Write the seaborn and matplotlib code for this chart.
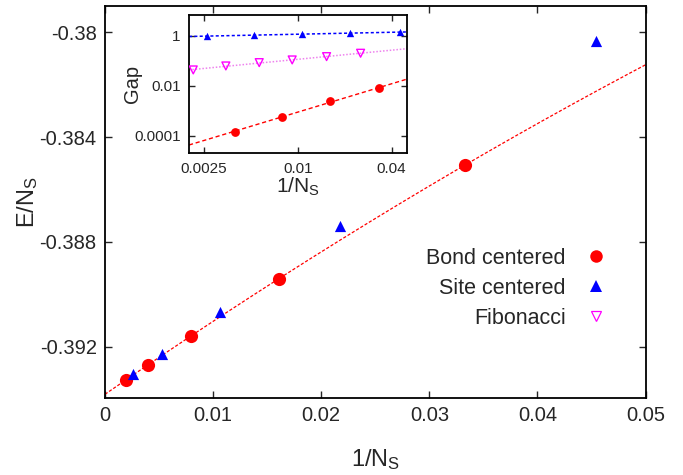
import numpy as np
import matplotlib
matplotlib.use("Agg")
import matplotlib.pyplot as plt
import seaborn as sns
from matplotlib.lines import Line2D

# ==== DATA ====
bond_N = [510, 254, 126, 62, 30]
bond_E = [-0.39327, -0.39270, -0.39159, -0.38940, -0.38506]

site_N = [382, 190, 94, 46, 22]
site_E = [-0.39304, -0.39228, -0.39068, -0.38740, -0.38033]

# inset: gaps (log-log)
bond_gap_N = [254, 126, 62, 30]
bond_gap = [1.49e-4, 5.92e-4, 2.44e-3, 8.09e-3]

site_gap_N = [382, 190, 94, 46, 22]
site_gap = [1.00, 1.07, 1.17, 1.28, 1.45]

fib_inv_N = [0.00213, 0.00345, 0.00565, 0.0092, 0.0153, 0.0253]
fib_gap = [0.0437, 0.063, 0.0855, 0.1096, 0.1486, 0.203]

main_xticks = [0, 0.01, 0.02, 0.03, 0.04, 0.05]
main_yticks = [-0.392, -0.388, -0.384, -0.38]
inset_xticks = [0.0025, 0.01, 0.04]
inset_xticklabels = ["0.0025", "0.01", "0.04"]
inset_yticks = [1e-4, 1e-2, 1]
inset_yticklabels = ["0.0001", "0.01", "1"]

sns.set_style("ticks", {"xtick.direction": "in", "ytick.direction": "in"})
plt.rcParams["font.family"] = ["Liberation Sans", "DejaVu Sans"]
plt.rcParams["mathtext.fontset"] = "custom"
plt.rcParams["mathtext.rm"] = "Liberation Sans"
plt.rcParams["mathtext.it"] = "Liberation Sans:italic"

bond_x = 1.0 / np.array(bond_N)
site_x = 1.0 / np.array(site_N)

fig = plt.figure(figsize=(6.83, 4.75), dpi=100)
fig.patch.set_facecolor("white")

# ---- main axes ----
ax = fig.add_axes([0.1537, 0.1621, 0.7915, 0.8253])

# quadratic fit through bond centered energies
coef = np.polyfit(bond_x, bond_E, 2)
xf = np.linspace(0, 0.05, 300)
sns.lineplot(x=xf, y=np.polyval(coef, xf), color="red", lw=0.9,
             linestyle=(0, (2.5, 1.5)), ax=ax, zorder=1)

sns.scatterplot(x=bond_x, y=bond_E, marker="o", s=90, color="red",
                linewidth=0, ax=ax, zorder=3)
sns.scatterplot(x=site_x, y=site_E, marker="^", s=65, color="blue",
                linewidth=0, ax=ax, zorder=3)

ax.set_xlim(0, 0.05)
ax.set_ylim(-0.39396, -0.379)
ax.set_xticks(main_xticks)
ax.set_xticklabels(["0", "0.01", "0.02", "0.03", "0.04", "0.05"])
ax.set_yticks(main_yticks)
ax.set_yticklabels(["-0.392", "-0.388", "-0.384", "-0.38"])
ax.tick_params(axis="both", which="major", direction="in", length=5, width=1.0,
               labelsize=14.5, top=True, right=True, pad=6)
ax.minorticks_off()
for sp in ax.spines.values():
    sp.set_visible(True)
    sp.set_linewidth(1.3)
    sp.set_color("black")
ax.set_xlabel(r"1/N$_{\mathrm{S}}$", fontsize=17, labelpad=16)
ax.set_ylabel(r"E/N$_{\mathrm{S}}$", fontsize=17, labelpad=0)

# legend, gnuplot style: text first, marker after
handles = [
    Line2D([], [], ls="none", marker="o", ms=9, color="red", mew=0),
    Line2D([], [], ls="none", marker="^", ms=8, color="blue", mew=0),
    Line2D([], [], ls="none", marker="v", ms=7.5, mfc="none", mec="magenta", mew=0.9),
]
ax.legend(handles, ["Bond centered", "Site centered", "Fibonacci"],
          loc="center right", bbox_to_anchor=(0.888, 0.393),
          bbox_transform=fig.transFigure, frameon=False, markerfirst=False,
          fontsize=15.5, handlelength=1.0, handletextpad=0.9,
          labelspacing=0.42, borderpad=0, borderaxespad=0)

# ---- inset ----
axi = fig.add_axes([0.2767, 0.6773, 0.3187, 0.2912])
axi.set_xscale("log")
axi.set_yscale("log")

xi = np.linspace(np.log10(0.002), np.log10(0.05), 100)

p_site = np.polyfit(np.log10(site_x), np.log10(site_gap), 1)
sns.lineplot(x=10 ** xi, y=10 ** np.polyval(p_site, xi), color="blue", lw=1.1,
             linestyle=(0, (2, 1.5)), ax=axi, zorder=1)
p_fib = np.polyfit(np.log10(fib_inv_N), np.log10(fib_gap), 1)
sns.lineplot(x=10 ** xi, y=10 ** np.polyval(p_fib, xi), color="violet", lw=1.1,
             linestyle=(0, (1, 1.2)), ax=axi, zorder=1)
bgx = 1.0 / np.array(bond_gap_N)
p_bond = np.polyfit(np.log10(bgx), np.log10(bond_gap), 1)
sns.lineplot(x=10 ** xi, y=10 ** np.polyval(p_bond, xi), color="red", lw=1.0,
             linestyle=(0, (3, 2)), ax=axi, zorder=1)

sns.scatterplot(x=1.0 / np.array(site_gap_N), y=site_gap, marker="^", s=28,
                color="blue", linewidth=0, ax=axi, zorder=3)
sns.scatterplot(x=fib_inv_N, y=fib_gap, marker="v", s=32, color="magenta",
                facecolor="none", edgecolor="magenta", linewidth=1.0,
                ax=axi, zorder=3)
sns.scatterplot(x=bgx, y=bond_gap, marker="o", s=40, color="red",
                linewidth=0, ax=axi, zorder=3)

axi.set_xlim(0.002, 0.05)
axi.set_ylim(2.03e-5, 6.9)
axi.set_xticks(inset_xticks)
axi.set_xticklabels(inset_xticklabels)
axi.set_yticks(inset_yticks)
axi.set_yticklabels(inset_yticklabels)
axi.minorticks_off()
axi.tick_params(axis="both", which="major", direction="in", length=4, width=1.0,
                labelsize=11, top=True, right=True, pad=6)
for sp in axi.spines.values():
    sp.set_visible(True)
    sp.set_linewidth(1.3)
    sp.set_color("black")
axi.set_xlabel(r"1/N$_{\mathrm{S}}$", fontsize=15, labelpad=0)
axi.set_ylabel("Gap", fontsize=14.5, labelpad=-6)

fig.savefig("out.png", dpi=100, facecolor="white")
